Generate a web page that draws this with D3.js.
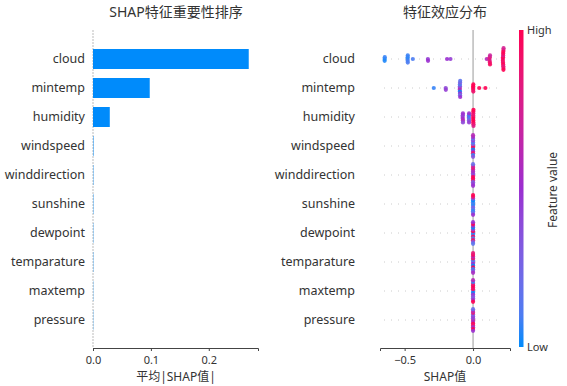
<!DOCTYPE html>
<html>
<head>
<meta charset="utf-8">
<script src="https://cdn.jsdelivr.net/npm/d3@7"></script>
<style>
  body { margin: 0; background: #fff; }
  text { font-family: "Noto Sans", "Noto Sans CJK SC", sans-serif; fill: #333; }
</style>
</head>
<body>
<div id="chart"></div>
<script>
const features = ["cloud", "mintemp", "humidity", "windspeed", "winddirection",
  "sunshine", "dewpoint", "temparature", "maxtemp", "pressure"];
const meanAbsShap = [0.269, 0.098, 0.029, 0.0008, 0.0006, 0.0006, 0.0005, 0.0005, 0.0004, 0.0004];
const barTicks = [0.0, 0.1, 0.2];
const swarmTicks = [-0.5, 0.0];

// shap values and normalised feature values (0 = low, 1 = high) per feature
const cloudShap = [-0.646, -0.646, -0.645, -0.478, -0.478, -0.478, -0.477, -0.477, -0.44,
  -0.33, -0.329, -0.19, -0.165, 0.1, 0.12, 0.121, 0.122, 0.123, 0.124, 0.124,
  0.218, 0.218, 0.219, 0.219, 0.22, 0.22, 0.22, 0.221, 0.221, 0.222, 0.222, 0.222, 0.223];
const cloudFv = [0.0, 0.02, 0.05, 0.05, 0.08, 0.03, 0.1, 0.06, 0.1,
  0.45, 0.5, 0.5, 0.45, 0.6, 0.75, 0.8, 0.85, 0.9, 0.7, 0.95,
  0.85, 0.95, 1.0, 0.9, 0.8, 1.0, 0.95, 0.85, 1.0, 0.9, 0.95, 1.0, 0.75];
const mintempShap = [-0.287, -0.2, -0.199, -0.097, -0.097, -0.096, -0.096, -0.096, -0.095,
  -0.095, -0.095, -0.094, -0.094, 0.0, 0.001, 0.001, 0.002, 0.002, 0.045, 0.09];
const mintempFv = [0.05, 0.4, 0.45, 0.55, 0.6, 0.4, 0.0, 0.1, 0.5,
  0.3, 0.2, 0.15, 0.5, 1.0, 0.95, 1.0, 0.9, 1.0, 1.0, 1.0];
const humidityShap = [-0.076, -0.075, -0.075, -0.074, -0.074, -0.074,
  -0.031, -0.03, -0.03, -0.03, -0.029, -0.029,
  0.001, 0.001, 0.001, 0.002, 0.002, 0.002, 0.002, 0.003, 0.003, 0.003];
const humidityFv = [0.5, 0.55, 0.45, 0.6, 0.5, 0.4,
  0.5, 0.1, 0.05, 0.3, 0.5, 0.45,
  0.95, 1.0, 0.9, 1.0, 0.85, 1.0, 0.95, 0.9, 1.0, 0.8];
const windspeedShap = [0, 0, 0, 0, 0, 0, 0, 0, 0, 0, 0, 0, 0];
const windspeedFv = [1.0, 0.95, 0.3, 0.0, 0.1, 0.5, 0.45, 0.9, 0.2, 0.05, 0.55, 0.35, 0.6];
const winddirectionShap = [0, 0, 0, 0, 0, 0, 0, 0, 0, 0, 0, 0, 0];
const winddirectionFv = [0.5, 0.95, 0.4, 1.0, 0.55, 0.9, 0.6, 0.3, 0.85, 0.45, 0.7, 0.5, 0.2];
const sunshineShap = [0, 0, 0, 0, 0, 0, 0, 0, 0, 0, 0, 0];
const sunshineFv = [0.0, 0.05, 0.1, 0.3, 0.0, 0.15, 0.4, 0.05, 0.9, 0.2, 1.0, 0.5];
const dewpointShap = [0, 0, 0, 0, 0, 0, 0, 0, 0, 0, 0, 0, 0];
const dewpointFv = [0.0, 0.05, 1.0, 0.95, 0.45, 0.1, 0.0, 0.9, 0.55, 0.3, 1.0, 0.15, 0.5];
const temparatureShap = [0, 0, 0, 0, 0, 0, 0, 0, 0, 0, 0, 0];
const temparatureFv = [0.45, 0.5, 0.1, 0.0, 0.9, 1.0, 0.6, 0.05, 0.95, 0.35, 0.85, 0.55];
const maxtempShap = [0, 0, 0, 0, 0, 0, 0, 0, 0, 0, 0, 0, 0];
const maxtempFv = [0.1, 0.0, 0.95, 0.5, 0.9, 0.4, 1.0, 0.3, 0.85, 0.55, 0.05, 1.0, 0.6];
const pressureShap = [0, 0, 0, 0, 0, 0, 0, 0, 0, 0, 0, 0, 0];
const pressureFv = [0.95, 0.5, 0.4, 1.0, 0.45, 0.9, 0.3, 0.55, 0.85, 1.0, 0.6, 0.5, 0.2];

const shapByFeature = [cloudShap, mintempShap, humidityShap, windspeedShap, winddirectionShap,
  sunshineShap, dewpointShap, temparatureShap, maxtempShap, pressureShap];
const fvByFeature = [cloudFv, mintempFv, humidityFv, windspeedFv, winddirectionFv,
  sunshineFv, dewpointFv, temparatureFv, maxtempFv, pressureFv];

const width = 567, height = 386;
const svg = d3.select("#chart").append("svg").attr("width", width).attr("height", height);

const color = d3.scaleLinear()
  .domain([0, 0.5, 1])
  .range(["#008bfb", "#9b2fd0", "#ff0052"])
  .interpolate(d3.interpolateLab);

const y = d3.scalePoint().domain(features).range([59, 320]);

// ---------- left panel: mean |SHAP| bars ----------
const xBar = d3.scaleLinear().domain([0, 0.285]).range([93, 258]);

svg.append("text").attr("x", 176).attr("y", 17).attr("text-anchor", "middle")
  .style("font-size", "14px").text("SHAP特征重要性排序");

svg.append("line")
  .attr("x1", xBar(0)).attr("x2", xBar(0)).attr("y1", 30).attr("y2", 348)
  .attr("stroke", "#bbb").attr("stroke-width", 1).attr("stroke-dasharray", "2,1");

svg.append("g").selectAll("rect")
  .data(features)
  .enter()
  .append("rect")
  .attr("x", xBar(0))
  .attr("y", d => y(d) - 10)
  .attr("width", (d, i) => xBar(meanAbsShap[i]) - xBar(0))
  .attr("height", 20)
  .attr("fill", "#008bfb");

svg.append("g").selectAll("text")
  .data(features)
  .enter()
  .append("text")
  .attr("x", 85)
  .attr("y", d => y(d))
  .attr("dy", "0.35em")
  .attr("text-anchor", "end")
  .style("font-size", "12.5px")
  .text(d => d);

const axBar = svg.append("g")
  .attr("transform", "translate(0,348)")
  .call(d3.axisBottom(xBar).tickValues(barTicks).tickFormat(d3.format(".1f")).tickSize(3));
axBar.select(".domain").attr("stroke", "#444");
axBar.selectAll(".tick line").attr("stroke", "#444");
axBar.selectAll(".tick text").style("font-size", "11px").attr("fill", "#333").attr("dy", "0.9em");

svg.append("text").attr("x", 176).attr("y", 381).attr("text-anchor", "middle")
  .style("font-size", "12px").text("平均|SHAP值|");

// ---------- right panel: beeswarm ----------
const xSw = d3.scaleLinear().domain([-0.68, 0.27]).range([380, 510]);

svg.append("text").attr("x", 445).attr("y", 17).attr("text-anchor", "middle")
  .style("font-size", "14px").text("特征效应分布");

// faint dotted row guides
svg.append("g").selectAll("line")
  .data(features)
  .enter()
  .append("line")
  .attr("x1", xSw.range()[0] + 4).attr("x2", xSw.range()[1] - 8)
  .attr("y1", d => y(d)).attr("y2", d => y(d))
  .attr("stroke", "#ccc").attr("stroke-width", 1).attr("stroke-dasharray", "1,6");

svg.append("line")
  .attr("x1", xSw(0)).attr("x2", xSw(0)).attr("y1", 30).attr("y2", 348)
  .attr("stroke", "#999").attr("stroke-width", 1);

// simple deterministic swarm: stack points sharing a pixel bin alternately up/down
const dots = [];
features.forEach((f, i) => {
  const vals = shapByFeature[i];
  const fvs = fvByFeature[i];
  const bins = new Map();
  vals.forEach((v, k) => {
    const b = Math.round(xSw(v) / 2.5);
    if (!bins.has(b)) bins.set(b, []);
    bins.get(b).push(k);
  });
  bins.forEach(members => {
    members.forEach((k, layer) => {
      const off = Math.ceil(layer / 2) * ((layer % 2) * 2 - 1);
      dots.push({ f, x: vals[k], fv: fvs[k], off });
    });
  });
});

svg.append("g").selectAll("circle")
  .data(dots)
  .enter()
  .append("circle")
  .attr("cx", d => xSw(d.x))
  .attr("cy", d => y(d.f) + d.off * 1.8)
  .attr("r", 2.1)
  .attr("fill", d => color(d.fv))
  .attr("fill-opacity", 0.9);

svg.append("g").selectAll("text")
  .data(features)
  .enter()
  .append("text")
  .attr("x", 355)
  .attr("y", d => y(d))
  .attr("dy", "0.35em")
  .attr("text-anchor", "end")
  .style("font-size", "12.5px")
  .text(d => d);

const axSw = svg.append("g")
  .attr("transform", "translate(0,348)")
  .call(d3.axisBottom(xSw).tickValues(swarmTicks).tickFormat(d => d3.format(".1f")(d).replace("-", "−")).tickSize(3));
axSw.select(".domain").attr("stroke", "#444");
axSw.selectAll(".tick line").attr("stroke", "#444");
axSw.selectAll(".tick text").style("font-size", "11px").attr("fill", "#333").attr("dy", "0.9em");

svg.append("text").attr("x", 445).attr("y", 381).attr("text-anchor", "middle")
  .style("font-size", "12px").text("SHAP值");

// ---------- colour bar ----------
const grad = svg.append("defs").append("linearGradient")
  .attr("id", "fvgrad").attr("x1", 0).attr("x2", 0).attr("y1", 1).attr("y2", 0);
d3.range(0, 1.01, 0.1).forEach(t => {
  grad.append("stop").attr("offset", t).attr("stop-color", color(t));
});
const cb = d3.scaleLinear().domain([0, 1]).range([347, 30]);
svg.append("rect")
  .attr("x", 519).attr("y", cb(1)).attr("width", 4.5).attr("height", cb(0) - cb(1))
  .attr("fill", "url(#fvgrad)");
svg.append("text").attr("x", 527).attr("y", cb(1)).attr("dy", "0.35em")
  .style("font-size", "11px").text("High");
svg.append("text").attr("x", 527).attr("y", cb(0)).attr("dy", "0.35em")
  .style("font-size", "11px").text("Low");
svg.append("text")
  .attr("transform", "translate(557,190) rotate(-90)")
  .attr("text-anchor", "middle")
  .style("font-size", "12px")
  .text("Feature value");
</script>
</body>
</html>
